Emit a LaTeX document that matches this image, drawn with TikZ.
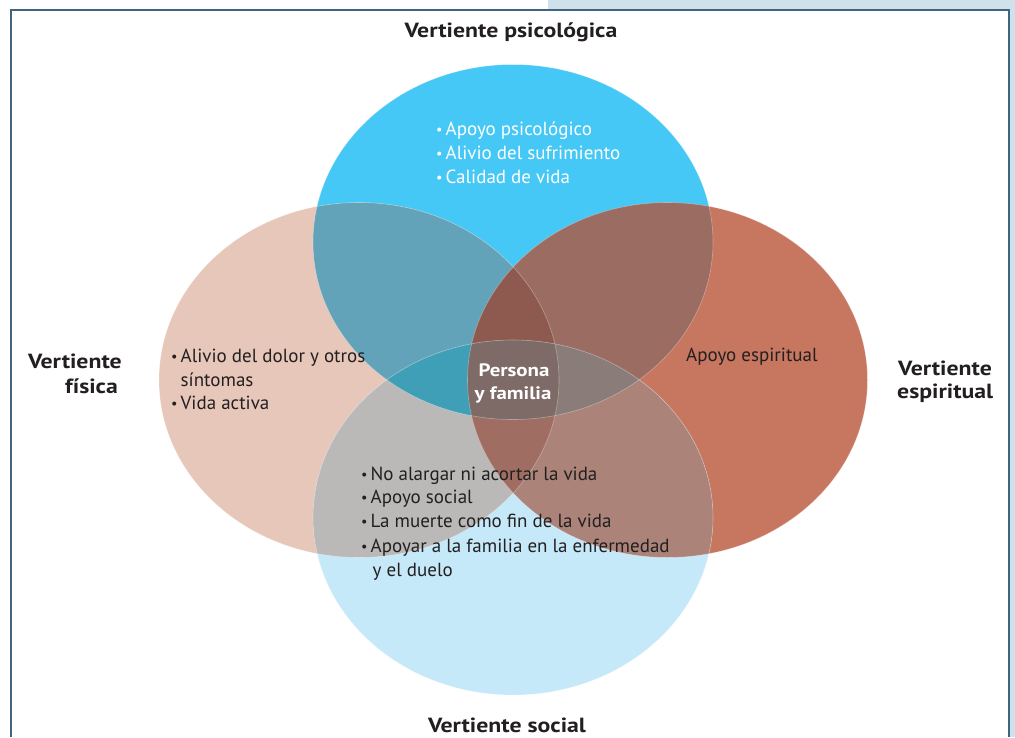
\documentclass[tikz,border=0pt]{standalone}
\usepackage{fontspec}
\setmainfont{PT Sans}
\newfontfamily\tfont{PT Sans}[FakeStretch=1.16]
\definecolor{colT}{HTML}{45C8F5}
\definecolor{colL}{HTML}{E6C7B9}
\definecolor{colR}{HTML}{C7765F}
\definecolor{colB}{HTML}{C6E9F9}
\definecolor{colTL}{HTML}{62A3B9}
\definecolor{colTR}{HTML}{9A6C62}
\definecolor{colLB}{HTML}{BBB9B8}
\definecolor{colRB}{HTML}{AB8379}
\definecolor{colTLR}{HTML}{8E5A50}
\definecolor{colTLB}{HTML}{3E9FB7}
\definecolor{colTRB}{HTML}{8A7D79}
\definecolor{colLRB}{HTML}{A06D62}
\definecolor{colQ}{HTML}{7E6A66}
\definecolor{ink}{HTML}{231F20}
\definecolor{frame}{HTML}{3F667E}
\definecolor{band}{HTML}{CFE2EC}
\newcommand\bul{\makebox[9.5pt][l]{\raisebox{0.03em}{\scalebox{0.75}{\textbullet}}}}
\begin{document}
\begin{tikzpicture}[x=1pt,y=-1pt,x radius=200pt,y radius=177.5pt,
  title/.style={inner sep=0pt,font=\fontsize{20.5}{24}\selectfont\tfont\bfseries,text=ink},
  body/.style={inner sep=0pt,font=\fontsize{19}{24}\selectfont,text=ink,anchor=base west},
  wbody/.style={body,text=white},
  centre/.style={title,text=white,anchor=base,font=\fontsize{18}{24}\selectfont\tfont\bfseries},
  edge/.style={draw=white,draw opacity=0.35,line width=0.6pt}]
\useasboundingbox (0,0) rectangle (1015,737);
\fill[white] (0,0) rectangle (1015,737);
% frame
\fill[band] (548,0) rectangle (1015,9);
\fill[band] (1009,0) rectangle (1015,737);
\draw[frame,line width=2pt] (11,737) -- (11,9.5) -- (1008.5,9.5) -- (1008.5,737);
% ellipse centres
\coordinate (cT) at (513,242);
\coordinate (cB) at (513,517.5);
\coordinate (cL) at (359,380);
\coordinate (cR) at (667.5,380);
% base fills
\fill[colT] (cT) ellipse [];
\fill[colL] (cL) ellipse [];
\fill[colR] (cR) ellipse [];
\fill[colB] (cB) ellipse [];
% pairs
\begin{scope}\clip (cT) ellipse []; \fill[colTL] (cL) ellipse []; \fill[colTR] (cR) ellipse [];\end{scope}
\begin{scope}\clip (cB) ellipse []; \fill[colLB] (cL) ellipse []; \fill[colRB] (cR) ellipse [];\end{scope}
% triples
\begin{scope}\clip (cL) ellipse []; \clip (cR) ellipse []; \fill[colTLR] (cT) ellipse []; \fill[colLRB] (cB) ellipse [];\end{scope}
\begin{scope}\clip (cT) ellipse []; \clip (cB) ellipse []; \fill[colTLB] (cL) ellipse []; \fill[colTRB] (cR) ellipse [];\end{scope}
% all four
\begin{scope}\clip (cT) ellipse []; \clip (cB) ellipse []; \clip (cL) ellipse []; \fill[colQ] (cR) ellipse [];\end{scope}
% faint outlines
\path[edge] (cT) ellipse [];
\path[edge] (cB) ellipse [];
\path[edge] (cL) ellipse [];
\path[edge] (cR) ellipse [];
% titles
\node[title,anchor=base] (tpsi) at (511,37) {Vertiente psicológica};
\node[title,anchor=base east] (tfis1) at (122,368) {Vertiente};
\node[title,anchor=base east] (tfis2) at (118,393) {física};
\node[title,anchor=base west] (tesp1) at (898,375) {Vertiente};
\node[title,anchor=base west] (tesp2) at (897,398) {espiritual};
\node[title,anchor=base] (tsoc) at (507,732) {Vertiente social};
% top list
\node[wbody] (p1) at (436,135) {\bul Apoyo psicológico};
\node[wbody] (p2) at (436,159) {\bul Alivio del sufrimiento};
\node[wbody] (p3) at (436,183) {\bul Calidad de vida};
% left list
\node[body] (f1) at (171,362) {\bul Alivio del dolor y otros};
\node[body] (f2) at (171,386) {\phantom{\bul}síntomas};
\node[body] (f3) at (171,409) {\bul Vida activa};
% right
\node[body] (e1) at (686,361) {Apoyo espiritual};
% bottom list
\node[body] (s1) at (361,480) {\bul No alargar ni acortar la vida};
\node[body] (s2) at (361,503) {\bul Apoyo social};
\node[body] (s3) at (361,527) {\bul La muerte como fin de la vida};
\node[body] (s4) at (361,552) {\bul Apoyar a la familia en la enfermedad};
\node[body] (s5) at (363,576) {\phantom{\bul}y el duelo};
% centre
\node[centre] (c1) at (514,376) {Persona};
\node[centre] (c2) at (513,399) {y familia};
\end{tikzpicture}
\end{document}
